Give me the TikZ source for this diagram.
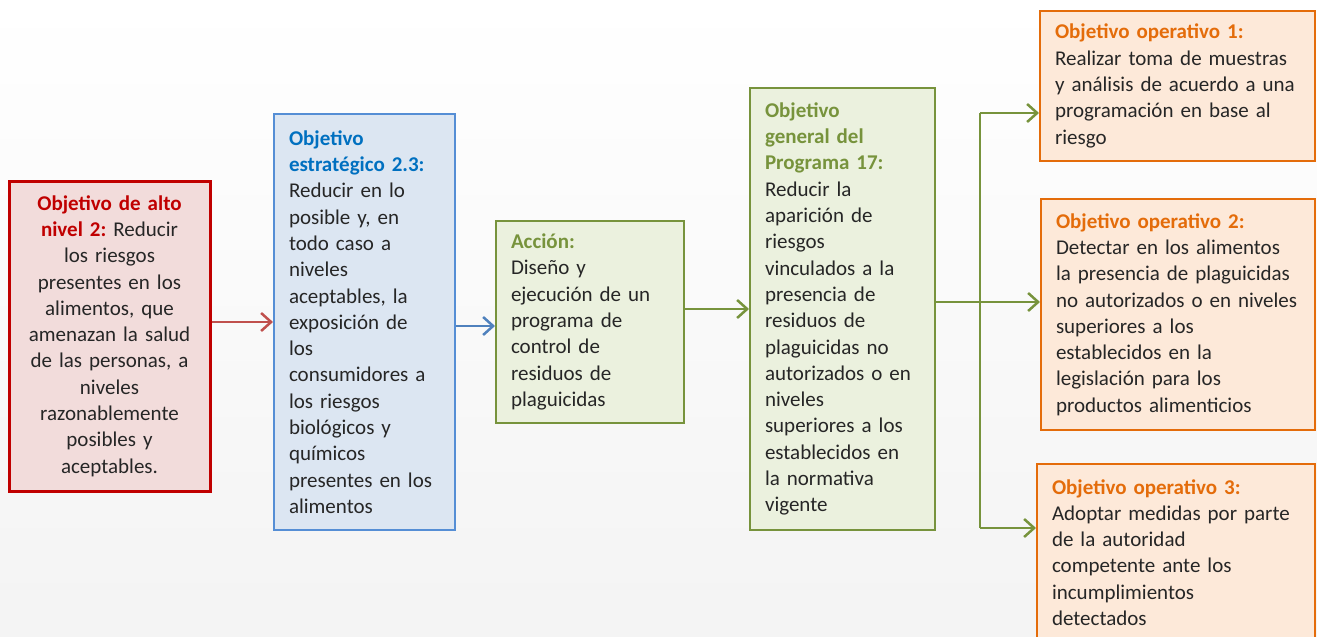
\documentclass[tikz,border=0pt]{standalone}
\usepackage{fontspec}
\setmainfont{Carlito}
\usetikzlibrary{arrows.meta, positioning}

\definecolor{altoRed}{HTML}{C00000}
\definecolor{altoFill}{HTML}{F2DCDB}
\definecolor{redLine}{HTML}{C0504D}
\definecolor{estrBlue}{HTML}{0070C0}
\definecolor{estrLine}{HTML}{558ED5}
\definecolor{estrFill}{HTML}{DCE6F2}
\definecolor{blueLine}{HTML}{4F81BD}
\definecolor{progGreen}{HTML}{77933C}
\definecolor{progFill}{HTML}{EBF1DE}
\definecolor{opOrange}{HTML}{E46C0A}
\definecolor{opFill}{HTML}{FDE9D9}
\definecolor{bodyText}{HTML}{262626}

\tikzset{
  box/.style={draw, line width=2pt, inner xsep=15pt, inner ysep=0pt,
    text=bodyText, font=\fontsize{21}{26.3}\selectfont, align=left},
  link/.style={line width=2.5pt, -{Straight Barb[length=10pt,width=18pt]}}
}

\begin{document}
\frenchspacing
\begin{tikzpicture}[x=1pt, y=-1pt]

% background
\fill[top color=white, bottom color=gray!9] (0,0) rectangle (1317,637);
\useasboundingbox (0,0) rectangle (1317,637);

% high level objective
\node[box, draw=altoRed, line width=3pt, fill=altoFill, align=center,
  minimum width=201pt, minimum height=310pt, text width=171pt] (alto) at (109.5,336)
  {\textcolor{altoRed}{\textbf{Objetivo de alto}}\\
   \textcolor{altoRed}{\textbf{nivel 2:}} Reducir\\ los riesgos\\ presentes en los\\
   alimentos, que\\ amenazan la salud\\ de las personas, a\\ niveles\\
   razonablemente\\ posibles y\\ aceptables.};

% strategic objective
\node[box, draw=estrLine, fill=estrFill,
  minimum width=181pt, minimum height=416pt, text width=151pt] (estr) at (364.5,322)
  {\textcolor{estrBlue}{\textbf{Objetivo}}\\ \textcolor{estrBlue}{\textbf{estratégico 2.3:}}\\
   Reducir en lo\\ posible y, en\\ todo caso a\\ niveles\\ aceptables, la\\
   exposición de\\ los\\ consumidores a\\ los riesgos\\ biológicos y\\ químicos\\
   presentes en los\\ alimentos};

% action
\node[box, draw=progGreen, fill=progFill,
  minimum width=188pt, minimum height=202pt, text width=158pt] (accion) at (590,322)
  {\textcolor{progGreen}{\textbf{Acción:}}\\ Diseño y\\ ejecución de un\\ programa de\\
   control de\\ residuos de\\ plaguicidas};

% general objective
\node[box, draw=progGreen, fill=progFill,
  minimum width=185pt, minimum height=442pt, text width=155pt] (general) at (842.5,309)
  {\textcolor{progGreen}{\textbf{Objetivo}}\\ \textcolor{progGreen}{\textbf{general del}}\\
   \textcolor{progGreen}{\textbf{Programa 17:}}\\ Reducir la\\ aparición de\\ riesgos\\
   vinculados a la\\ presencia de\\ residuos de\\ plaguicidas no\\ autorizados o en\\
   niveles\\ superiores a los\\ establecidos en\\ la normativa\\ vigente};

% operative objectives
\node[box, draw=opOrange, fill=opFill,
  minimum width=275pt, minimum height=150pt, text width=245pt] (op1) at (1177.5,86)
  {\textcolor{opOrange}{\textbf{Objetivo operativo 1:}}\\ Realizar toma de muestras\\
   y análisis de acuerdo a una\\ programación en base al\\ riesgo};

\node[box, draw=opOrange, fill=opFill,
  minimum width=274pt, minimum height=231pt, text width=244pt] (op2) at (1178,314.5)
  {\textcolor{opOrange}{\textbf{Objetivo operativo 2:}}\\ Detectar en los alimentos\\
   la presencia de plaguicidas\\ no autorizados o en niveles\\ superiores a los\\
   establecidos en la\\ legislación para los\\ productos alimenticios};

\node[box, draw=opOrange, fill=opFill,
  minimum width=278pt, minimum height=177pt, text width=248pt] (op3) at (1176,552.5)
  {\textcolor{opOrange}{\textbf{Objetivo operativo 3:}}\\ Adoptar medidas por parte\\
   de la autoridad\\ competente ante los\\ incumplimientos\\ detectados};

% arrows along the chain
\draw[link, redLine] (alto.east |- estr.west) -- (estr.west);
\draw[link, blueLine] ([yshift=-4pt]estr.east) -- ([yshift=-4pt]accion.west);
\draw[link, progGreen] (accion.east |- general.west) -- (general.west);

% split to the operative objectives
\coordinate (split) at (980,302);
\draw[line width=2.5pt, progGreen] (general.east |- split) -- (split);
\draw[line width=2.5pt, progGreen] (split |- 0,113) -- (split |- 0,528);
\draw[link, progGreen] (split |- 0,113) -- (op1.west |- 0,113);
\draw[link, progGreen] (split) -- (op2.west |- split);
\draw[link, progGreen] (split |- 0,528) -- (op3.west |- 0,528);

\end{tikzpicture}
\end{document}
